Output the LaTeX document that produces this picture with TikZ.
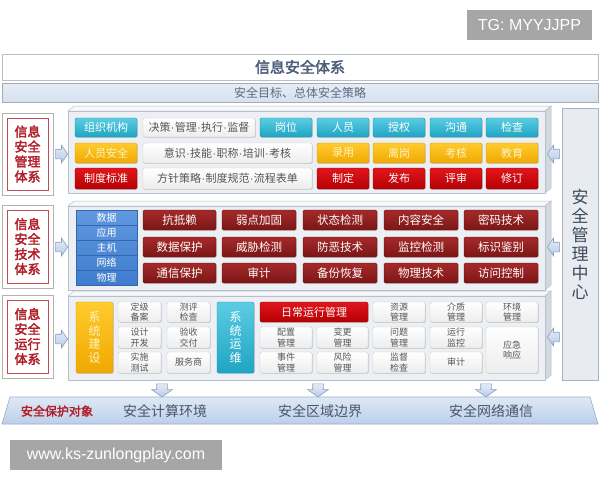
\documentclass[tikz,border=0pt]{standalone}
\usepackage{fontspec}
\setmainfont{Noto Sans CJK SC}
\newfontfamily\cjkb{Noto Sans CJK SC}[FakeBold=2.5]
\newfontfamily\lat{Liberation Sans}
\newcommand\md{{\lat\kern0.3pt·\kern0.3pt}}
\usetikzlibrary{shapes.arrows,shadows}
\definecolor{cyanT}{HTML}{5CCCE3}\definecolor{cyanB}{HTML}{1EA5C3}\definecolor{cyanD}{HTML}{1A93AD}
\definecolor{orgT}{HTML}{FFCB2E}\definecolor{orgB}{HTML}{F0A800}\definecolor{orgD}{HTML}{D99A00}\definecolor{orgTx}{HTML}{FFF3C4}
\definecolor{redT}{HTML}{E0161B}\definecolor{redB}{HTML}{B50005}\definecolor{redD}{HTML}{9A0004}
\definecolor{drT}{HTML}{A52A2A}\definecolor{drB}{HTML}{7C1616}\definecolor{drD}{HTML}{651010}
\definecolor{blueT}{HTML}{6199E0}\definecolor{blueB}{HTML}{3F7CCE}\definecolor{blueD}{HTML}{3467B0}
\definecolor{whB}{HTML}{EDEDED}\definecolor{whD}{HTML}{CFCFCF}\definecolor{txG}{HTML}{555555}
\definecolor{labred}{HTML}{B01E28}\definecolor{titletx}{HTML}{4B5F7C}
\definecolor{subfill}{HTML}{D5E1EF}\definecolor{subtx}{HTML}{5B6B82}
\definecolor{pF}{HTML}{ECEFF3}\definecolor{pT}{HTML}{F7F8FA}\definecolor{pS}{HTML}{D3D8E0}\definecolor{pD}{HTML}{B7BFCA}
\definecolor{rcF}{HTML}{E8ECF1}\definecolor{rcD}{HTML}{A9B1BD}\definecolor{rcTx}{HTML}{3B4B5E}
\definecolor{arrD}{HTML}{8A9FBF}\definecolor{arrT}{HTML}{E4ECF7}\definecolor{arrB}{HTML}{B9CBE6}
\definecolor{bandT}{HTML}{DFE9F6}\definecolor{bandB}{HTML}{BCCFE8}\definecolor{bandD}{HTML}{9AAECB}
\definecolor{wmF}{HTML}{A6A6A6}
\newcommand\bx[7]{\node[#1, minimum width={(#5-#3)*1pt}, minimum height={(#6-#4)*1pt}] (#2) at ({(#3+#5)/2},{(#4+#6)/2}) {#7};}
\newcommand\panelbox[2]{%
  \filldraw[fill=pT, draw=pD, line width=0.5pt] (68,#1) -- (74,{#1-5}) -- (551,{#1-5}) -- (545,#1) -- cycle;
  \filldraw[fill=pS, draw=pD, line width=0.5pt] (545,#1) -- (551,{#1-5}) -- (551,{#2-5}) -- (545,#2) -- cycle;
  \filldraw[fill=pF, draw=pD, line width=0.5pt] (68,#1) rectangle (545,#2);}
\tikzset{
  btn/.style={rounded corners=1.5pt, inner sep=0pt, outer sep=0pt, align=center, line width=0.4pt,
    drop shadow={shadow xshift=0.8pt, shadow yshift=-0.8pt, opacity=0.3},
    font=\fontsize{11}{12}\selectfont},
  cyanbtn/.style={btn, draw=cyanD, top color=cyanT, bottom color=cyanB, text=white},
  orgbtn/.style={btn, draw=orgD, top color=orgT, bottom color=orgB, text=orgTx},
  redbtn/.style={btn, draw=redD, top color=redT, bottom color=redB, text=white},
  drbtn/.style={btn, draw=drD, top color=drT, bottom color=drB, text=white, font=\fontsize{11.5}{12}\selectfont},
  whbtn/.style={btn, draw=whD, top color=white, bottom color=whB, text=txG},
  smbtn/.style={whbtn, font=\fontsize{9}{10.5}\selectfont},
  bluestack/.style={btn, rounded corners=0pt, draw=blueD, top color=blueT, bottom color=blueB, text=white, font=\fontsize{10}{15}\selectfont},
  vbtn/.style={font=\fontsize{12}{13.5}\selectfont},
  labouter/.style={draw=gray!60, fill=white, inner sep=0pt, line width=0.6pt},
  labinner/.style={draw=labred!80, fill=white, inner sep=0pt, line width=0.9pt, text=labred, align=center, font=\cjkb\fontsize{13}{15}\selectfont},
  barrow/.style={single arrow, draw=arrD, top color=arrT, bottom color=arrB, inner xsep=0pt, inner ysep=4.5pt,
    single arrow head extend=4pt, single arrow tip angle=110, minimum height=12pt, line width=0.6pt},
  darrow/.style={barrow, shape border rotate=270, inner xsep=5pt, inner ysep=0pt, single arrow head extend=5pt, minimum height=13pt},
  larrow/.style={barrow, shape border rotate=180},
  wm/.style={fill=wmF, text=white, inner sep=0pt, font=\lat\fontsize{16}{18}\selectfont},
}
\begin{document}
\begin{tikzpicture}[x=1pt,y=-1pt]
\useasboundingbox (0,0) rectangle (600,480);
\fill[white] (0,0) rectangle (600,480);
% watermarks
\bx{wm}{tg}{467}{10}{592}{40}{TG: MYYJJPP}
% title
\bx{draw=pD, fill=white, line width=0.6pt, inner sep=0pt, drop shadow={shadow xshift=0.6pt, shadow yshift=-0.6pt, opacity=0.2}, text=titletx, font=\cjkb\fontsize{15}{16}\selectfont}{title}{2}{54}{598}{80}{信息安全体系}
\bx{draw=pD!90!black, top color=subfill!60, bottom color=subfill, line width=0.6pt, inner sep=0pt, text=subtx, font=\fontsize{12}{13}\selectfont}{sub}{2}{83}{598}{102}{安全目标、总体安全策略}
% right centre
\bx{draw=rcD, fill=rcF, line width=0.6pt, inner sep=0pt, align=center, text=rcTx, font=\fontsize{17}{19}\selectfont}{rc}{562}{108}{598}{380}{安\\全\\管\\理\\中\\心}
% panels
\panelbox{111}{193}
\panelbox{206}{290}
\panelbox{296}{380}
% left labels
\bx{labouter}{lo1}{2}{113}{53}{195}{}
\bx{labinner}{li1}{7}{118}{48}{190}{信息\\安全\\管理\\体系}
\bx{labouter}{lo2}{2}{205}{53}{288}{}
\bx{labinner}{li2}{7}{210}{48}{283}{信息\\安全\\技术\\体系}
\bx{labouter}{lo3}{2}{295}{53}{378}{}
\bx{labinner}{li3}{7}{300}{48}{373}{信息\\安全\\运行\\体系}
% section 1
\bx{cyanbtn}{s1a}{75}{118}{137}{137}{组织机构}
\bx{whbtn}{s1b}{143}{118}{255}{137}{决策\md 管理\md 执行\md 监督}
\bx{cyanbtn}{s1c}{260}{118}{312}{137}{岗位}
\bx{cyanbtn}{s1d}{317}{118}{369}{137}{人员}
\bx{cyanbtn}{s1e}{373}{118}{425}{137}{授权}
\bx{cyanbtn}{s1f}{430}{118}{482}{137}{沟通}
\bx{cyanbtn}{s1g}{486}{118}{538}{137}{检查}
\bx{orgbtn}{s2a}{75}{143}{137}{163}{人员安全}
\bx{whbtn}{s2b}{143}{143}{312}{163}{意识\md 技能\md 职称\md 培训\md 考核}
\bx{orgbtn}{s2d}{317}{143}{369}{163}{录用}
\bx{orgbtn}{s2e}{373}{143}{425}{163}{离岗}
\bx{orgbtn}{s2f}{430}{143}{482}{163}{考核}
\bx{orgbtn}{s2g}{486}{143}{538}{163}{教育}
\bx{redbtn}{s3a}{75}{168}{137}{189}{制度标准}
\bx{whbtn}{s3b}{143}{168}{312}{189}{方针策略\md 制度规范\md 流程表单}
\bx{redbtn}{s3d}{317}{168}{369}{189}{制定}
\bx{redbtn}{s3e}{373}{168}{425}{189}{发布}
\bx{redbtn}{s3f}{430}{168}{482}{189}{评审}
\bx{redbtn}{s3g}{486}{168}{538}{189}{修订}
% section 2
\bx{bluestack}{blue}{76}{210}{137}{285}{数据\\应用\\主机\\网络\\物理}
\foreach \yy in {225,240,255,270} \draw[blueD, line width=0.5pt] (blue.west |- 0,\yy) -- (blue.east |- 0,\yy);
\bx{drbtn}{t1a}{143}{210}{216}{230}{抗抵赖}
\bx{drbtn}{t1b}{222}{210}{296}{230}{弱点加固}
\bx{drbtn}{t1c}{303}{210}{377}{230}{状态检测}
\bx{drbtn}{t1d}{384}{210}{458}{230}{内容安全}
\bx{drbtn}{t1e}{464}{210}{538}{230}{密码技术}
\bx{drbtn}{t2a}{143}{237}{216}{257}{数据保护}
\bx{drbtn}{t2b}{222}{237}{296}{257}{威胁检测}
\bx{drbtn}{t2c}{303}{237}{377}{257}{防恶技术}
\bx{drbtn}{t2d}{384}{237}{458}{257}{监控检测}
\bx{drbtn}{t2e}{464}{237}{538}{257}{标识鉴别}
\bx{drbtn}{t3a}{143}{263}{216}{283}{通信保护}
\bx{drbtn}{t3b}{222}{263}{296}{283}{审计}
\bx{drbtn}{t3c}{303}{263}{377}{283}{备份恢复}
\bx{drbtn}{t3d}{384}{263}{458}{283}{物理技术}
\bx{drbtn}{t3e}{464}{263}{538}{283}{访问控制}
% section 3
\bx{orgbtn,vbtn}{o1}{76}{302}{113}{373}{系\\统\\建\\设}
\bx{smbtn}{o2}{118}{302}{161}{322}{定级\\备案}
\bx{smbtn}{o3}{167}{302}{210}{322}{测评\\检查}
\bx{smbtn}{o4}{118}{327}{161}{348}{设计\\开发}
\bx{smbtn}{o5}{167}{327}{210}{348}{验收\\交付}
\bx{smbtn}{o6}{118}{352}{161}{373}{实施\\测试}
\bx{smbtn}{o7}{167}{352}{210}{373}{服务商}
\bx{cyanbtn,vbtn}{o8}{217}{302}{254}{373}{系\\统\\运\\维}
\bx{redbtn}{o9}{260}{302}{368}{322}{日常运行管理}
\bx{smbtn}{o10}{260}{327}{312}{348}{配置\\管理}
\bx{smbtn}{o11}{317}{327}{368}{348}{变更\\管理}
\bx{smbtn}{o12}{260}{352}{312}{373}{事件\\管理}
\bx{smbtn}{o13}{317}{352}{368}{373}{风险\\管理}
\bx{smbtn}{o14}{373}{302}{425}{322}{资源\\管理}
\bx{smbtn}{o15}{430}{302}{482}{322}{介质\\管理}
\bx{smbtn}{o16}{486}{302}{538}{322}{环境\\管理}
\bx{smbtn}{o17}{373}{327}{425}{348}{问题\\管理}
\bx{smbtn}{o18}{430}{327}{482}{348}{运行\\监控}
\bx{smbtn}{o19}{486}{327}{538}{373}{应急\\响应}
\bx{smbtn}{o20}{373}{352}{425}{373}{监督\\检查}
\bx{smbtn}{o21}{430}{352}{482}{373}{审计}
% arrows
\node[barrow] (la1) at (60,154) {};
\node[barrow] (la2) at (60,247) {};
\node[barrow] (la3) at (60,339) {};
\node[larrow] (ra1) at (555,154) {};
\node[larrow] (ra2) at (555,247) {};
\node[larrow] (ra3) at (555,337) {};
% bottom band
\shade[top color=bandT, bottom color=bandB, draw=bandD, line width=0.6pt] (10,397) -- (590,397) -- (598,424) -- (2,424) -- cycle;
\node[darrow] (da1) at (162,388.5) {};
\node[darrow] (da2) at (318,388.5) {};
\node[darrow] (da3) at (486,388.5) {};
\node[text=labred, font=\cjkb\fontsize{12}{13}\selectfont] (b0) at (57,411) {安全保护对象};
\node[text=subtx!80!black, font=\fontsize{14}{15}\selectfont] (b1) at (165,411) {安全计算环境};
\node[text=subtx!80!black, font=\fontsize{14}{15}\selectfont] (b2) at (320,411) {安全区域边界};
\node[text=subtx!80!black, font=\fontsize{14}{15}\selectfont] (b3) at (491,411) {安全网络通信};
\bx{wm}{www}{10}{440}{222}{470}{www.ks-zunlongplay.com}
\end{tikzpicture}
\end{document}
